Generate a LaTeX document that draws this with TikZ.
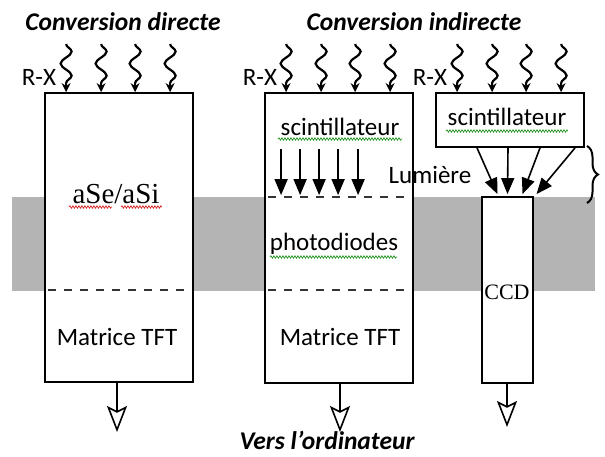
\documentclass[tikz,border=0pt]{standalone}
\usepackage{fontspec}
\setmainfont{Carlito}
\newfontfamily\serifont{Liberation Serif}
\usetikzlibrary{arrows.meta,positioning,calc,decorations.pathmorphing,decorations.pathreplacing}

\definecolor{bande}{RGB}{180,180,180}
\definecolor{soulrouge}{RGB}{215,40,40}
\definecolor{soulvert}{RGB}{40,150,40}

\begin{document}
\begin{tikzpicture}[
    x=1pt, y=-1pt,
    >=Stealth, % pointes pleines
    font=\fontsize{25}{29}\selectfont,
    boite/.style={draw, fill=white, line width=1.8pt, inner sep=0pt},
    rayon/.style={line width=2.2pt, -{Stealth[length=9pt,width=9pt]},
        decorate, decoration={snake, amplitude=5.5pt, segment length=24pt, post length=9pt}},
    lumiere/.style={line width=1.6pt, -{Stealth[length=16pt,width=13pt,inset=0pt]}},
    sortie/.style={line width=1.6pt, -{Stealth[open,length=26pt,width=20pt,inset=5pt]}},
    pointille/.style={line width=2pt, dash pattern=on 8pt off 8pt, black!80},
    titre/.style={font=\fontsize{25.5}{29}\selectfont\bfseries\itshape},
    souligne/.style={line width=0.7pt, decorate, decoration={snake, amplitude=1.2pt, segment length=3pt}}
]
    \useasboundingbox (0,0) rectangle (605,457);

    % --- bande grise ---
    \fill[bande] (12,197) rectangle (595,291);

    % --- niveaux ---
    \coordinate (niveauLum) at (0,197);
    \coordinate (niveauTFT) at (0,290);

    % --- boites ---
    % 1. conversion directe
    \node[boite, minimum width=148pt, minimum height=289pt] (directe) at (119,237.5) {};
    % 2. conversion indirecte (scintillateur + photodiodes)
    \node[boite, minimum width=148pt, minimum height=290pt] (indirecte) at (339,238) {};
    % 3. scintillateur + CCD
    \node[boite, minimum width=148pt, minimum height=54pt] (scint) at (510,120) {};
    \node[boite, minimum width=51pt, minimum height=186pt] (ccd) at (507.5,290) {};

    % --- lignes pointillees ---
    \draw[pointille] ([xshift=4pt]directe.west |- niveauTFT) -- ([xshift=-2pt]directe.east |- niveauTFT);
    \draw[pointille] ([xshift=4pt]indirecte.west |- niveauTFT) -- ([xshift=-2pt]indirecte.east |- niveauTFT);
    \draw[pointille] ([xshift=4pt]indirecte.west |- niveauLum) -- ([xshift=-2pt]indirecte.east |- niveauLum);

    % --- rayons X ---
    \foreach \b in {directe,indirecte,scint}
        \foreach \dx in {22,57,91,126}
            \draw[rayon] ($(\b.north west)+(\dx,-48)$) -- ($(\b.north west)+(\dx,0)$);

    % --- lumiere ---
    \foreach \dx in {17,36,55,74,94}
        \draw[lumiere] ($(indirecte.north west)+(\dx,57)$) -- ($(indirecte.north west)+(\dx,103)$);
    \draw[lumiere] ($(scint.south)+(-33,0)$) -- ($(ccd.north)+(-10,-2)$);
    \draw[lumiere] ($(scint.south)+(-2,0)$) -- ($(ccd.north)+(0,-2)$);
    \draw[lumiere] ($(scint.south)+(30,0)$) -- ($(ccd.north)+(15,-2)$);
    \draw[lumiere] ($(scint.south)+(65,0)$) -- ($(ccd.north)+(29,-2)$);

    % accolade
    \coordinate (acc1) at (587,146);
    \coordinate (acc2) at (587,203);
    \draw[line width=2pt, decorate, decoration={brace, amplitude=11pt}] (acc1) -- (acc2);

    % --- sorties ---
    \coordinate (finD) at (117,432);
    \coordinate (finI) at (340,432);
    \coordinate (finC) at (507,427);
    \draw[sortie] (directe.south -| finD) -- (finD);
    \draw[sortie] (indirecte.south -| finI) -- (finI);
    \draw[sortie] (ccd.south -| finC) -- (finC);

    % --- textes ---
    \node[titre] (titreD) at (123,22) {Conversion directe};
    \node[titre] (titreI) at (414,22) {Conversion indirecte};
    \node[titre, inner sep=0pt] (ordi) at (327,440) {Vers l’ordinateur};

    \node (rx1) at (39,77) {R-X};
    \node (rx2) at (260,77) {R-X};
    \node (rx3) at (430,77) {R-X};

    \node[font=\fontsize{29}{32}\serifont] (ase) at (116,194) {aSe/aSi};
    \node (tftD) at (117,337) {Matrice TFT};
    \node (scintI) at (340,127) {scintillateur};
    \node (photo) at (334,244) {photodiodes};
    \node (tftI) at (340,337) {Matrice TFT};
    \node (scintC) at (507,117) {scintillateur};
    \node (lum) at (430,175) {Lumière};
    \node[font=\fontsize{22}{25}\serifont] (ccdtxt) at (507,292) {CCD};

    % soulignements
    \draw[souligne, soulrouge] (69,207) -- (112,207);
    \draw[souligne, soulrouge] (121,207) -- (162,207);
    \draw[souligne, soulvert] (278,139) -- (402,139);
    \draw[souligne, soulvert] (446,131) -- (568,131);
    \draw[souligne, soulvert] (270,257) -- (397,257);
\end{tikzpicture}
\end{document}
